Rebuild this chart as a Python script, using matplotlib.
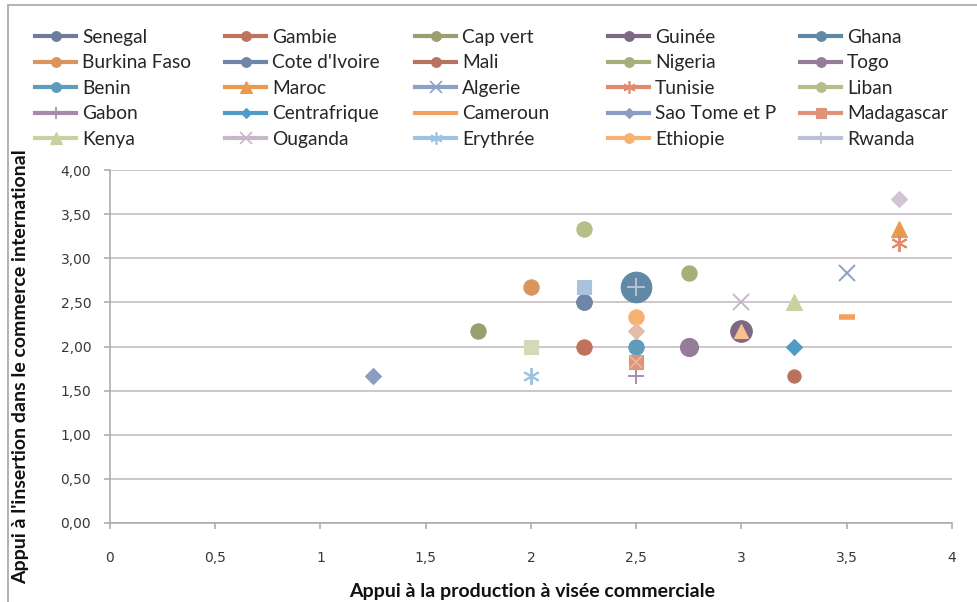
import matplotlib
matplotlib.use("Agg")
import matplotlib.pyplot as plt
from matplotlib.lines import Line2D
from matplotlib.patches import Rectangle
from matplotlib.ticker import FuncFormatter, MultipleLocator

# ---------------- data ----------------
countries = ["Senegal", "Gambie", "Cap vert", "Guinée", "Ghana",
             "Burkina Faso", "Cote d'Ivoire", "Mali", "Nigeria", "Togo",
             "Benin", "Maroc", "Algerie", "Tunisie", "Liban",
             "Gabon", "Centrafrique", "Cameroun", "Sao Tome et P", "Madagascar",
             "Kenya", "Ouganda", "Erythrée", "Ethiopie", "Rwanda"]
x_prod = [2.25, 2.25, 1.75, 3.00, 2.50,
          2.00, 2.25, 3.25, 2.75, 2.75,
          2.50, 3.75, 3.50, 3.75, 2.25,
          2.50, 3.25, 3.50, 1.25, 2.50,
          3.25, 3.00, 2.00, 2.50, 2.50]
y_comm = [2.50, 2.00, 2.17, 2.17, 2.67,
          2.67, 2.50, 1.67, 2.83, 2.00,
          2.00, 3.33, 2.83, 3.17, 3.33,
          1.67, 2.00, 2.33, 1.67, 1.83,
          2.50, 2.50, 1.67, 2.33, 2.67]

# unlabelled extra series (not shown in the legend)
extra_x = [2.25, 2.00, 2.50, 3.75, 3.00, 2.50]
extra_y = [2.67, 2.00, 2.17, 3.67, 2.17, 1.83]

# ---------------- styles ----------------
colors = ["#6c7c9e", "#c0735c", "#9b9e70", "#7f6884", "#5f89a4",
          "#d9955c", "#7086a8", "#b8735e", "#a8ae7a", "#957d99",
          "#5f9bba", "#e99a4e", "#8fa0c6", "#e08a70", "#b7be8a",
          "#a88ba8", "#4f9cc6", "#f4a060", "#8b9dc3", "#dd9478",
          "#c9d1a3", "#c7b7c9", "#9cc4e0", "#f7b173", "#b9c0d8"]
asterisk = (6, 2, 0)
markers = ["o", "o", "o", "o", "o",
           "o", "o", "o", "o", "o",
           "o", "^", "x", asterisk, "o",
           "+", "D", "_", "D", "s",
           "^", "x", asterisk, "o", "+"]
sizes = [11, 11, 11, 15.5, 22,
         11, 11, 9.5, 11, 13,
         11, 11, 12, 12, 11,
         12, 8.5, 12, 8.5, 10.5,
         11, 12, 12, 11, 13]
leg_sizes = [7, 7, 7, 7, 7,
             7, 7, 7, 7, 7,
             7, 8, 9, 9, 7,
             9, 5.5, 0, 5.5, 7,
             8, 9, 9, 7, 9]

extra_colors = ["#a9c3dc", "#d4dab8", "#e8baa8", "#d2c4d4", "#f5c28e", "#eeb6a4"]
extra_markers = ["s", "s", "D", "D", "^", "x"]
extra_sizes = [10.5, 10.5, 8.5, 8.5, 10, 9]

# ---------------- figure ----------------
W, H = 978, 602
fig = plt.figure(figsize=(W / 100, H / 100), dpi=100)
fig.patch.set_facecolor("white")

def fx(px):
    return px / W

def fy(py):
    return 1 - py / H

# chart border
fig.patches.append(Rectangle((fx(8), fy(640)), fx(1100), fy(5) - fy(640),
                             transform=fig.transFigure, fill=False,
                             edgecolor="#a6a6a6", lw=1.2, zorder=0))

ax = fig.add_axes([fx(110), fy(523), fx(952) - fx(110), fy(170) - fy(523)])
ax.set_xlim(0, 4)
ax.set_ylim(0, 4)
ax.xaxis.set_major_locator(MultipleLocator(0.5))
ax.yaxis.set_major_locator(MultipleLocator(0.5))

def xfmt(v, pos):
    return ("%g" % v).replace(".", ",")

def yfmt(v, pos):
    return ("%.2f" % v).replace(".", ",")

ax.xaxis.set_major_formatter(FuncFormatter(xfmt))
ax.yaxis.set_major_formatter(FuncFormatter(yfmt))
ax.grid(axis="y", color="#c0b8c0", lw=1.1)
ax.set_axisbelow(True)
for s in ["top", "right"]:
    ax.spines[s].set_visible(False)
for s in ["left", "bottom"]:
    ax.spines[s].set_color("#a8a8a8")
    ax.spines[s].set_linewidth(1.1)
ax.tick_params(axis="both", colors="#a8a8a8", length=4.5, width=1.1,
               labelcolor="#383838", labelsize=10)
ax.tick_params(axis="y", pad=9)
ax.tick_params(axis="x", pad=16)
for lab in ax.get_xticklabels() + ax.get_yticklabels():
    lab.set_family("DejaVu Sans")

for i, name in enumerate(countries):
    thick = markers[i] in ("x", "+", asterisk)
    ax.plot([x_prod[i]], [y_comm[i]], linestyle="-", lw=3,
            marker=markers[i], ms=sizes[i], color=colors[i],
            mec=colors[i],
            mew=4 if markers[i] == "_" else (1.4 if thick else 0.8),
            zorder=3, clip_on=False)

for i in range(len(extra_x)):
    ax.plot([extra_x[i]], [extra_y[i]], linestyle="none",
            marker=extra_markers[i], ms=extra_sizes[i], color=extra_colors[i],
            mec=extra_colors[i], mew=1.2 if extra_markers[i] == "x" else 0.8,
            zorder=4)

# legend: 5 columns, row-major order
col_x = [35, 225, 415, 608, 800]
for c in range(5):
    idx = [c + 5 * r for r in range(5)]
    handles = []
    for i in idx:
        handles.append(Line2D([0], [0], color=colors[i], lw=3,
                              marker=markers[i] if leg_sizes[i] > 0 else None,
                              ms=leg_sizes[i], mec=colors[i],
                              mew=1.2 if markers[i] in ("x", "+", asterisk) else 0.8))
    leg = fig.legend(handles, [countries[i] for i in idx],
                     loc="upper left", bbox_to_anchor=(fx(col_x[c]), fy(29)),
                     bbox_transform=fig.transFigure, frameon=False,
                     prop={"family": "Lato", "size": 13.8},
                     handlelength=2.15, handletextpad=0.3,
                     labelspacing=0.44, borderpad=0, borderaxespad=0)
    for t in leg.get_texts():
        t.set_color("#262626")

fig.text(fx(532), fy(592), "Appui à la production à visée commerciale",
         ha="center", va="center", fontsize=14, fontweight="bold",
         family="Lato", color="#111111")
fig.text(fx(21), fy(367), "Appui à l'insertion dans le commerce international",
         ha="center", va="center", rotation=90, fontsize=14,
         fontweight="bold", family="Lato", color="#111111")

fig.savefig("out.png", dpi=100, facecolor="white")
